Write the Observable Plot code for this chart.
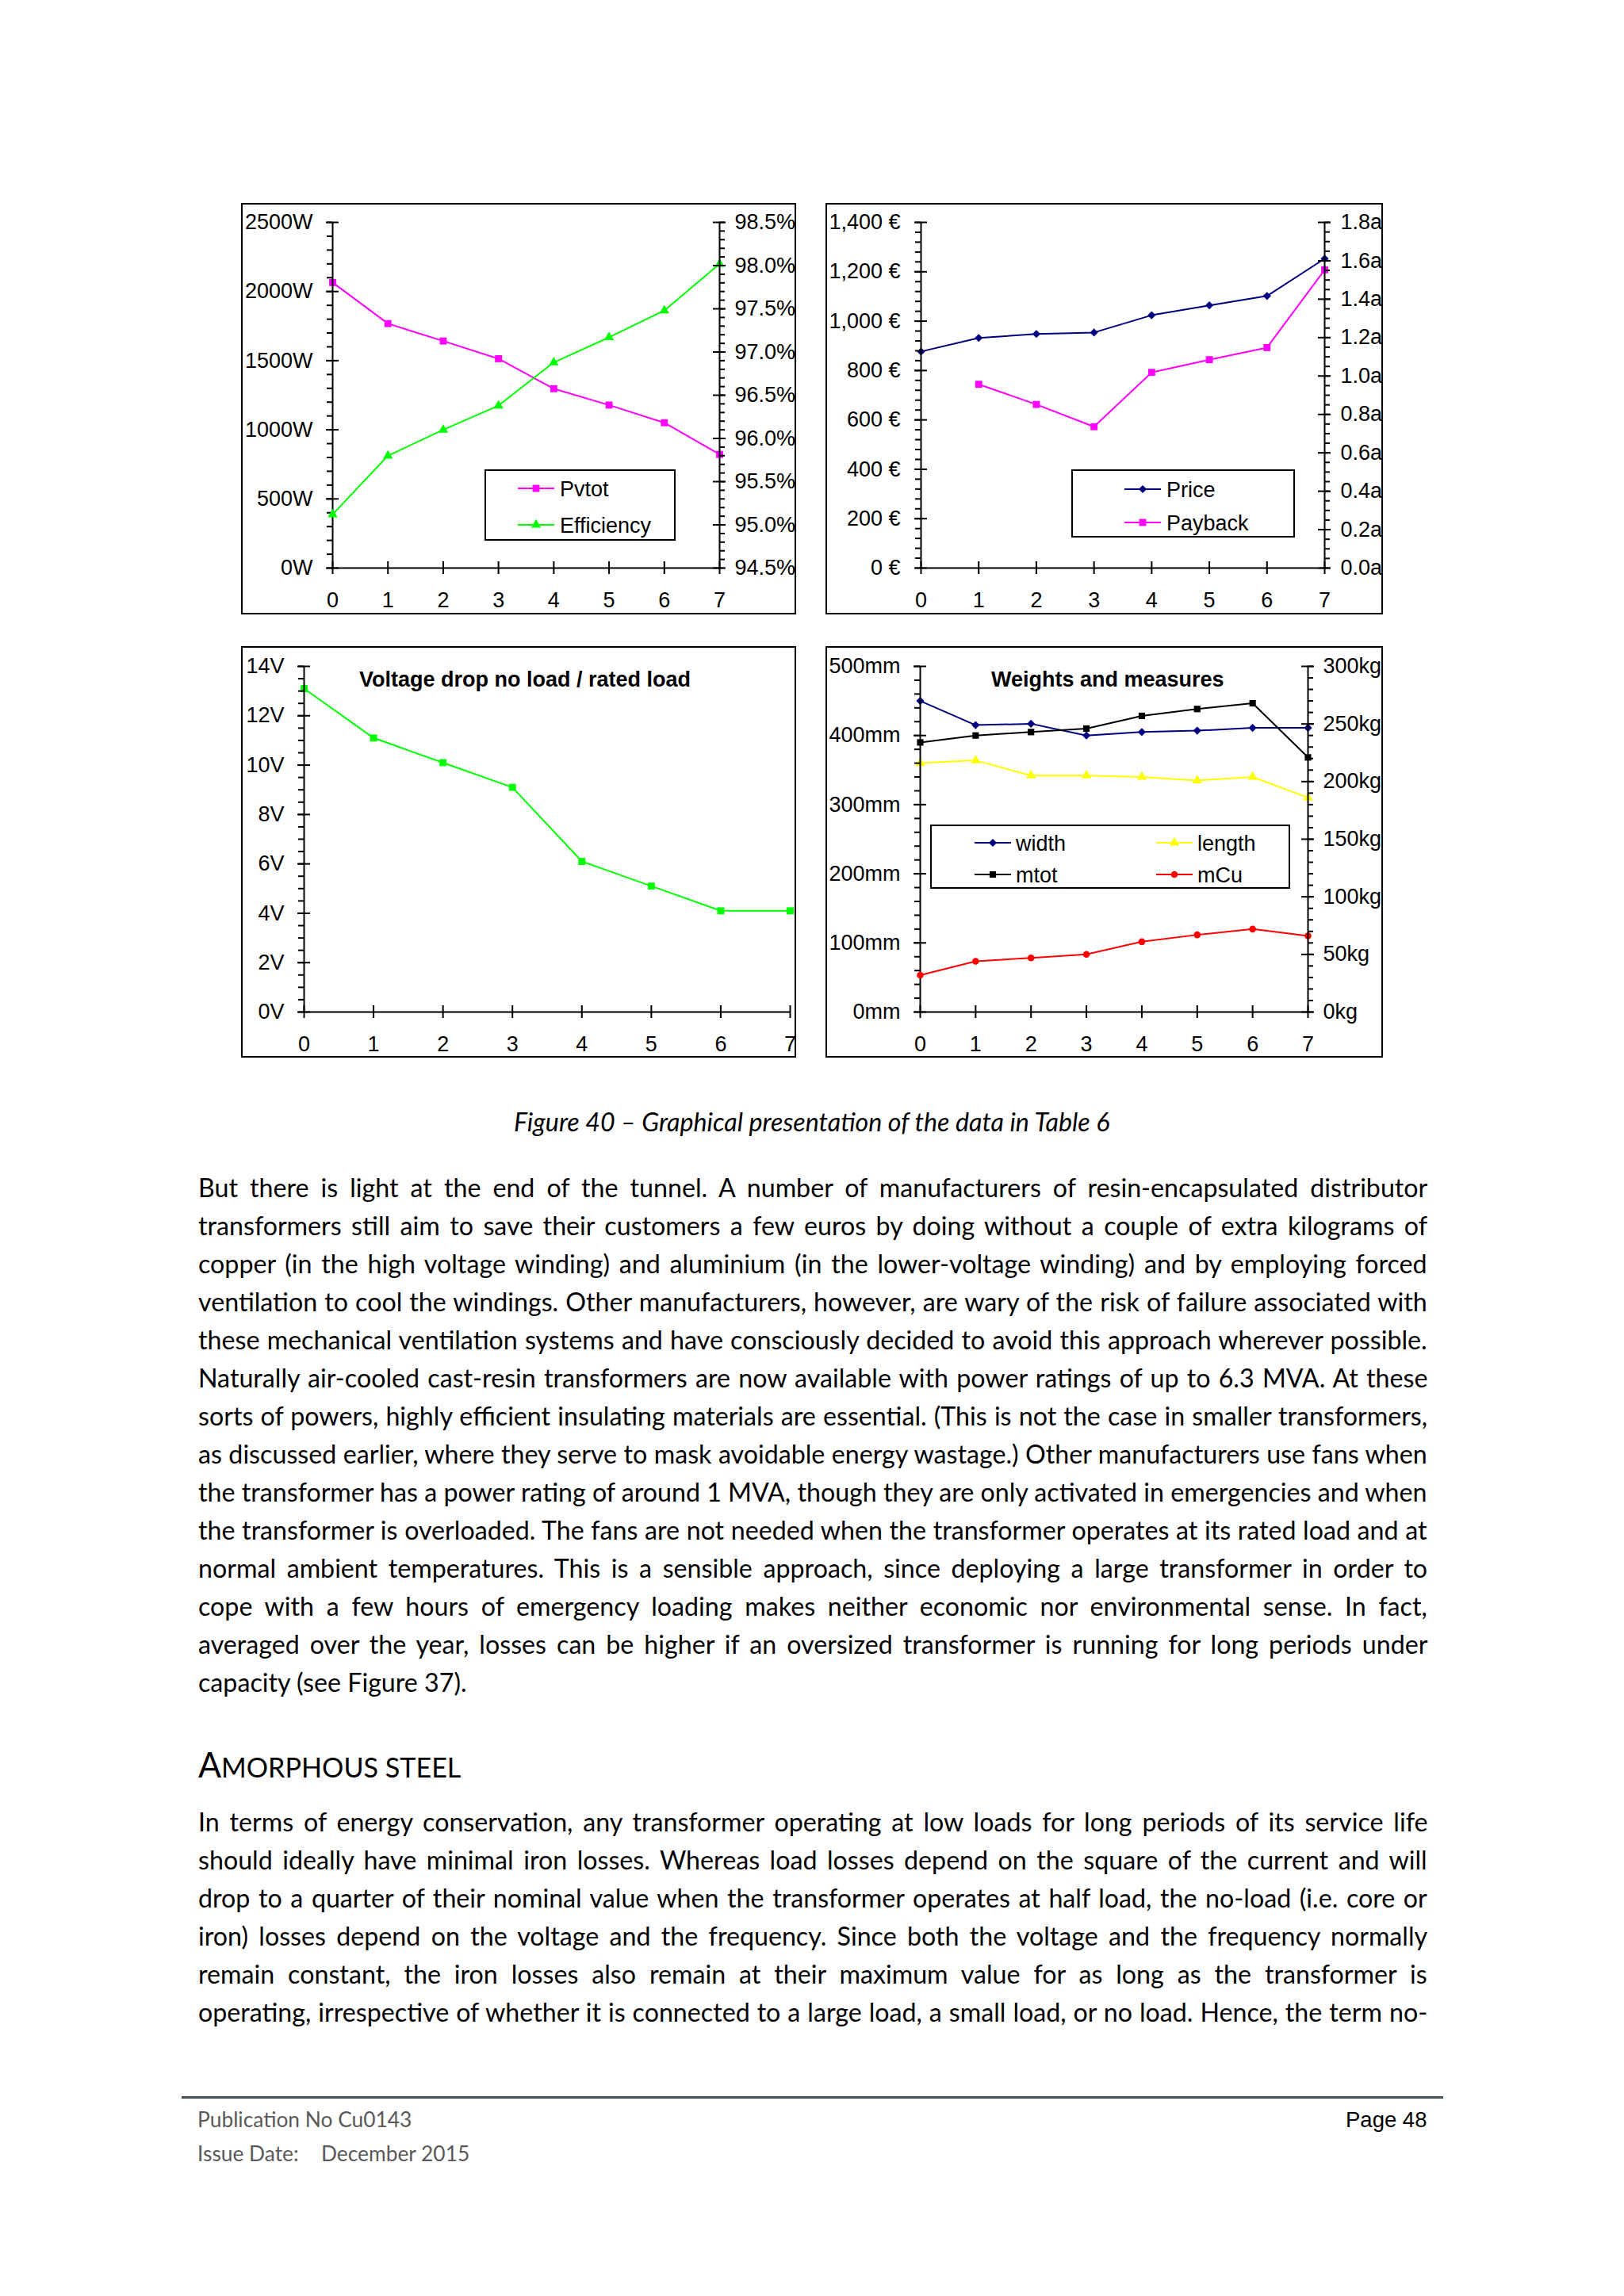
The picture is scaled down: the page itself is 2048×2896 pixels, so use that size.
<!DOCTYPE html>
<html><head><meta charset="utf-8">
<script src="https://cdn.jsdelivr.net/npm/d3@7"></script>
<script src="https://cdn.jsdelivr.net/npm/@observablehq/plot@0.6"></script>
<style>
html,body{margin:0;padding:0;background:#fff;}
#page{position:relative;width:2048px;height:2896px;overflow:hidden;background:#fff;}
.box{position:absolute;overflow:visible;background:#fff;}
.box svg{position:absolute;left:0;top:0;}
.frame{position:absolute;left:0;top:0;right:0;bottom:0;border:2px solid #000;box-sizing:border-box;pointer-events:none;}
.legend{position:absolute;border:2px solid #000;background:#fff;box-sizing:border-box;}
.legend svg{position:absolute;}
</style></head><body><div id="page"></div>
<script>
// ---------------- data ----------------
const loadSteps = [0, 1, 2, 3, 4, 5, 6, 7];
const pvtotW = [2065, 1768, 1642, 1514, 1297, 1179, 1051, 822];
const efficiencyPct = [95.12, 95.80, 96.10, 96.38, 96.88, 97.17, 97.48, 98.02];
const priceEur = [877, 932, 948, 954, 1024, 1064, 1102, 1253];
const paybackA = [null, 0.957, 0.852, 0.736, 1.019, 1.085, 1.148, 1.553];
const voltageDropV = [13.1, 11.1, 10.1, 9.1, 6.1, 5.1, 4.1, 4.1];
const widthMm = [450, 415, 417, 400, 405, 407, 411, 411];
const lengthMm = [360, 364, 342, 342, 340, 335, 340, 310];
const mtotKg = [234, 240, 243, 246, 257, 263, 268, 221];
const mCuKg = [32, 44, 47, 50, 61, 67, 72, 66];

// tick values
const wattTicks = [0, 500, 1000, 1500, 2000, 2500];
const effTicks = [94.5, 95.0, 95.5, 96.0, 96.5, 97.0, 97.5, 98.0, 98.5];
const eurTicks = [0, 200, 400, 600, 800, 1000, 1200, 1400];
const yearTicks = [0, 0.2, 0.4, 0.6, 0.8, 1.0, 1.2, 1.4, 1.6, 1.8];
const voltTicks = [0, 2, 4, 6, 8, 10, 12, 14];
const mmTicks = [0, 100, 200, 300, 400, 500];
const kgTicks = [0, 50, 100, 150, 200, 250, 300];

// text
const captionText = "Figure 40 – Graphical presentation of the data in Table 6";
const para1 = [
"But there is light at the end of the tunnel. A number of manufacturers of resin-encapsulated distributor",
"transformers still aim to save their customers a few euros by doing without a couple of extra kilograms of",
"copper (in the high voltage winding) and aluminium (in the lower-voltage winding) and by employing forced",
"ventilation to cool the windings. Other manufacturers, however, are wary of the risk of failure associated with",
"these mechanical ventilation systems and have consciously decided to avoid this approach wherever possible.",
"Naturally air-cooled cast-resin transformers are now available with power ratings of up to 6.3 MVA. At these",
"sorts of powers, highly efficient insulating materials are essential. (This is not the case in smaller transformers,",
"as discussed earlier, where they serve to mask avoidable energy wastage.) Other manufacturers use fans when",
"the transformer has a power rating of around 1 MVA, though they are only activated in emergencies and when",
"the transformer is overloaded. The fans are not needed when the transformer operates at its rated load and at",
"normal ambient temperatures. This is a sensible approach, since deploying a large transformer in order to",
"cope with a few hours of emergency loading makes neither economic nor environmental sense. In fact,",
"averaged over the year, losses can be higher if an oversized transformer is running for long periods under",
"capacity (see Figure 37)."
];
const para2 = [
"In terms of energy conservation, any transformer operating at low loads for long periods of its service life",
"should ideally have minimal iron losses. Whereas load losses depend on the square of the current and will",
"drop to a quarter of their nominal value when the transformer operates at half load, the no-load (i.e. core or",
"iron) losses depend on the voltage and the frequency. Since both the voltage and the frequency normally",
"remain constant, the iron losses also remain at their maximum value for as long as the transformer is",
"operating, irrespective of whether it is connected to a large load, a small load, or no load. Hence, the term no-"
];

// ---------------- helpers ----------------
const page = document.getElementById("page");
const CFONT = '"Liberation Sans", Arial, sans-serif';
const BFONT = 'Lato, "Open Sans", sans-serif';
const pts = vals => loadSteps.map((x, i) => ({x, y: vals[i]})).filter(d => d.y != null);
const range = (a, b, s) => { const out = []; for (let k = 0; a + k * s <= b + 1e-9; k++) out.push(+(a + k * s).toFixed(4)); return out; };

function makeText(parent, content, style, isHTML) {
  const el = document.createElement("div");
  el.style.cssText = "position:absolute;left:0;top:0;white-space:nowrap;transform-origin:0 0;";
  Object.assign(el.style, style || {});
  const span = document.createElement("span");
  if (isHTML) span.innerHTML = content; else span.textContent = content;
  const probe = document.createElement("span");
  probe.style.cssText = "display:inline-block;width:0;height:0;vertical-align:baseline;";
  el.appendChild(span); el.appendChild(probe);
  parent.appendChild(el);
  return {el, span, probe};
}
function place(t, x, baseline, anchor, sx) {
  sx = sx || 1;
  const w = t.span.offsetWidth * sx;
  let left = x;
  if (anchor === "middle") left = x - w / 2;
  else if (anchor === "end") left = x - w;
  t.el.style.left = left + "px";
  t.el.style.top = (baseline - t.probe.offsetTop) + "px";
  if (sx !== 1) t.el.style.transform = `scaleX(${sx})`;
}

function seriesMarks(list) {
  return list.flatMap(s => [
    Plot.line(pts(s.values), {x: "x", y: "y", stroke: s.color, strokeWidth: 2}),
    Plot.dot(pts(s.values), {x: "x", y: "y", symbol: s.symbol, r: s.r, fill: s.color, stroke: "none"})
  ]);
}

function chart(cfg) {
  const {left, top, width: W, height: H, mL, mR, mT, mB} = cfg;
  const box = document.createElement("div");
  box.className = "box";
  Object.assign(box.style, {left: left + "px", top: top + "px", width: W + "px", height: H + "px"});
  page.appendChild(box);
  const innerW = W - mL - mR, innerH = H - mT - mB;
  const style = {fontFamily: CFONT, fontSize: "27px", color: "#000", background: "transparent", overflow: "visible"};
  const common = {width: W, height: H, marginLeft: mL, marginRight: mR, marginTop: mT, marginBottom: mB, style};
  const P = cfg.primary;
  const tk = {stroke: "#000", strokeWidth: 2};
  const p1 = Plot.plot({...common,
    x: {domain: [0, 7], ticks: loadSteps, tickSize: 0, tickPadding: 30, tickFormat: d => String(d), label: null},
    y: {domain: P.domain, ticks: P.major, tickSize: 0, tickPadding: P.pad, tickFormat: P.fmt, label: null},
    marks: [
      ...seriesMarks(P.series),
      Plot.ruleX([0], tk),
      Plot.ruleY([P.domain[0]], tk),
      Plot.tickY(P.minor, {y: d => d, insetLeft: -7, insetRight: innerW, ...tk}),
      Plot.tickY(P.major, {y: d => d, insetLeft: -8, insetRight: innerW - 8, ...tk}),
      Plot.tickX(loadSteps, {x: d => d, insetTop: innerH - 8, insetBottom: -8, ...tk})
    ]});
  box.appendChild(p1);
  if (cfg.secondary) {
    const S = cfg.secondary;
    const p2 = Plot.plot({...common,
      x: {domain: [0, 7], axis: null},
      y: {domain: S.domain, axis: "right", ticks: S.major, tickSize: 0, tickPadding: S.pad, tickFormat: S.fmt, label: null},
      marks: [
        ...seriesMarks(S.series),
        Plot.ruleX([7], tk),
        Plot.tickY(S.minor, {y: d => d, insetLeft: innerW, insetRight: -7, ...tk}),
        Plot.tickY(S.major, {y: d => d, insetLeft: innerW - 8, insetRight: -8, ...tk})
      ]});
    box.appendChild(p2);
  }
  const fr = document.createElement("div"); fr.className = "frame"; box.appendChild(fr);
  if (cfg.title) {
    const t = makeText(page, cfg.title.text, {fontFamily: CFONT, fontSize: "27px", fontWeight: "bold"});
    place(t, cfg.title.x, cfg.title.baseline, "middle");
  }
  if (cfg.legend) legend(cfg.legend);
}

const symbolMap = {square: d3.symbolSquare, diamond2: d3.symbolDiamond2, triangle: d3.symbolTriangle, circle: d3.symbolCircle};
function legend(L) {
  const div = document.createElement("div");
  div.className = "legend";
  Object.assign(div.style, {left: L.left + "px", top: L.top + "px", width: L.width + "px", height: L.height + "px"});
  page.appendChild(div);
  for (const it of L.items) {
    const s = it.series;
    const svg = d3.create("svg").attr("width", 46).attr("height", 20)
      .style("left", (it.x - 2) + "px").style("top", (it.y - 2 - 10) + "px");
    svg.append("line").attr("x1", 0).attr("x2", 46).attr("y1", 10).attr("y2", 10).attr("stroke", s.color).attr("stroke-width", 2);
    svg.append("path").attr("transform", "translate(23,10)").attr("fill", s.color)
      .attr("d", d3.symbol(symbolMap[s.symbol], Math.PI * s.r * s.r)());
    div.appendChild(svg.node());
    const t = makeText(page, it.label, {fontFamily: CFONT, fontSize: "27px"});
    place(t, L.left + it.tx, L.top + it.y + 9.7, "start");
  }
}

// ---------------- series ----------------
const sPvtot = {values: pvtotW, color: "#FF00FF", symbol: "square", r: 5};
const sEff = {values: efficiencyPct, color: "#00FF00", symbol: "triangle", r: 4.6};
const sPrice = {values: priceEur, color: "#000080", symbol: "diamond2", r: 4.6};
const sPayback = {values: paybackA, color: "#FF00FF", symbol: "square", r: 5};
const sVolt = {values: voltageDropV, color: "#00FF00", symbol: "square", r: 5};
const sWidth = {values: widthMm, color: "#000080", symbol: "diamond2", r: 4.6};
const sLength = {values: lengthMm, color: "#FFFF00", symbol: "triangle", r: 4.6};
const sMtot = {values: mtotKg, color: "#000000", symbol: "square", r: 4.6};
const sMcu = {values: mCuKg, color: "#FF0000", symbol: "circle", r: 4.3};

// ---------------- charts ----------------
chart({left: 304, top: 256, width: 700, height: 519, mL: 115, mR: 97, mT: 24, mB: 59,
  primary: {domain: [0, 2500], major: wattTicks, minor: range(0, 2500, 100), pad: 25, fmt: d => d + "W", series: [sPvtot]},
  secondary: {domain: [94.5, 98.5], major: effTicks, minor: range(94.5, 98.5, 0.1), pad: 19, fmt: d => d.toFixed(1) + "%", series: [sEff]},
  legend: {left: 611, top: 592, width: 241, height: 90, items: [
    {label: "Pvtot", series: sPvtot, x: 42, y: 24, tx: 95},
    {label: "Efficiency", series: sEff, x: 42, y: 70, tx: 95}]}
});
chart({left: 1041, top: 256, width: 703, height: 519, mL: 120, mR: 74, mT: 24, mB: 59,
  primary: {domain: [0, 1400], major: eurTicks, minor: range(0, 1400, 40), pad: 26, fmt: d => d3.format(",")(d) + "\u00a0€", series: [sPrice]},
  secondary: {domain: [0, 1.8], major: yearTicks, minor: range(0, 1.8, 0.05), pad: 20, fmt: d => d.toFixed(1) + "a", series: [sPayback]},
  legend: {left: 1351, top: 592, width: 282, height: 86, items: [
    {label: "Price", series: sPrice, x: 67, y: 25, tx: 120},
    {label: "Payback", series: sPayback, x: 67, y: 67, tx: 120}]}
});
chart({left: 304, top: 815, width: 700, height: 519, mL: 79, mR: 8, mT: 25, mB: 58,
  primary: {domain: [0, 14], major: voltTicks, minor: range(0, 14, 0.5), pad: 25, fmt: d => d + "V", series: [sVolt]},
  title: {text: "Voltage drop no load / rated load", x: 662, baseline: 866}
});
chart({left: 1041, top: 815, width: 703, height: 519, mL: 119, mR: 95, mT: 25, mB: 58,
  primary: {domain: [0, 500], major: mmTicks, minor: range(0, 500, 20), pad: 25, fmt: d => d + "mm", series: [sWidth, sLength]},
  secondary: {domain: [0, 300], major: kgTicks, minor: range(0, 300, 10), pad: 19, fmt: d => d + "kg", series: [sMtot, sMcu]},
  title: {text: "Weights and measures", x: 1397, baseline: 866},
  legend: {left: 1173, top: 1040, width: 454, height: 81, items: [
    {label: "width", series: sWidth, x: 56, y: 23, tx: 108},
    {label: "length", series: sLength, x: 285, y: 23, tx: 337},
    {label: "mtot", series: sMtot, x: 56, y: 63, tx: 108},
    {label: "mCu", series: sMcu, x: 285, y: 63, tx: 337}]}
});

// ---------------- body text ----------------
const FS = 33, BODY_L = 250, BODY_W = 1550;
const bodyLines = [
  ...para1.map((s, i) => ({s, baseline: 1510 + 48 * i, justify: i < para1.length - 1})),
  ...para2.map((s, i) => ({s, baseline: 2310 + 48 * i, justify: true}))
];
bodyLines.forEach(l => { l.t = makeText(page, l.s, {fontFamily: BFONT, fontSize: FS + "px", color: "#000"}); l.w = l.t.span.offsetWidth; l.n = (l.s.match(/ /g) || []).length; });
let sx = 1;
bodyLines.forEach(l => { if (l.justify) sx = Math.min(sx, BODY_W / l.w); });
bodyLines.forEach(l => {
  if (l.justify && l.n > 0) {
    const ws = (BODY_W / sx - l.w) / l.n;
    l.t.el.style.wordSpacing = ws + "px";
  }
  place(l.t, BODY_L, l.baseline, "start", sx);
});

const cap = makeText(page, captionText, {fontFamily: BFONT, fontSize: FS + "px", fontStyle: "italic"});
place(cap, 1024, 1427, "middle", sx);

const head = makeText(page, '<span style="font-size:44px">A</span><span style="font-size:35px">MORPHOUS STEEL</span>', {fontFamily: BFONT}, true);
place(head, 250, 2242, "start", sx);

// footer
const rule = document.createElement("div");
rule.style.cssText = "position:absolute;left:229px;top:2644px;width:1591px;height:3px;background:#44525c;";
page.appendChild(rule);
const f1 = makeText(page, "Publication No Cu0143", {fontFamily: BFONT, fontSize: "27px", color: "#595959"});
place(f1, 249, 2683, "start", sx);
const f2 = makeText(page, "Issue Date:", {fontFamily: BFONT, fontSize: "27px", color: "#595959"});
place(f2, 249, 2726, "start", sx);
const f3 = makeText(page, "December 2015", {fontFamily: BFONT, fontSize: "27px", color: "#595959"});
place(f3, 405, 2726, "start", sx);
const f4 = makeText(page, "Page 48", {fontFamily: CFONT, fontSize: "27.5px", color: "#000"});
place(f4, 1799, 2683, "end");
</script></body></html>
